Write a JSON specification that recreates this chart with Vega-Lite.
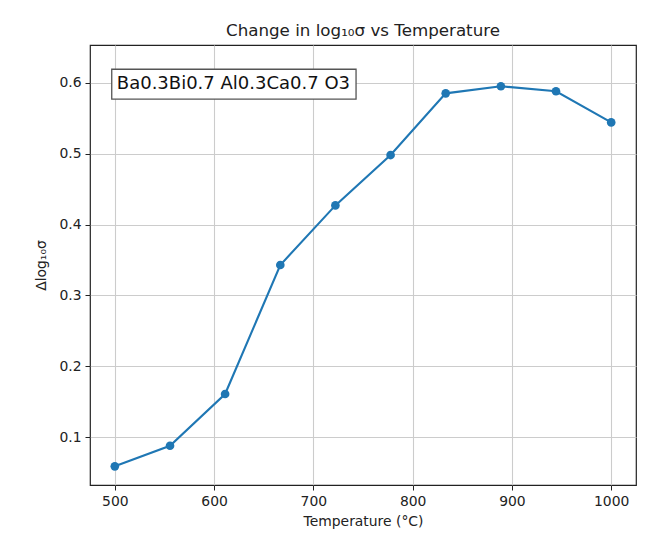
{
  "$schema": "https://vega.github.io/schema/vega-lite/v6.json",
  "width": 546,
  "height": 440,
  "autosize": {"type": "none"},
  "padding": {"left": 90, "top": 45, "right": 15, "bottom": 48},
  "background": "white",
  "title": {
    "text": "Change in log₁₀σ vs Temperature",
    "font": "DejaVu Sans",
    "fontSize": 16.7,
    "fontWeight": "normal",
    "color": "#222222",
    "offset": 5
  },
  "config": {
    "view": {"stroke": "#222222", "strokeWidth": 1.2},
    "axis": {
      "domain": false,
      "labelFont": "DejaVu Sans",
      "labelFontSize": 13.9,
      "labelColor": "#222222",
      "titleFont": "DejaVu Sans",
      "titleFontSize": 13.9,
      "titleFontWeight": "normal",
      "titleColor": "#222222",
      "tickColor": "#222222",
      "tickSize": 5,
      "tickWidth": 1,
      "labelPadding": 4,
      "grid": true,
      "gridColor": "#cccccc",
      "gridWidth": 1.1
    }
  },
  "datasets": {
    "series": [
      {"temperature": 500.0, "dlog_sigma": 0.059},
      {"temperature": 555.6, "dlog_sigma": 0.088},
      {"temperature": 611.1, "dlog_sigma": 0.161},
      {"temperature": 666.7, "dlog_sigma": 0.343},
      {"temperature": 722.2, "dlog_sigma": 0.427},
      {"temperature": 777.8, "dlog_sigma": 0.498},
      {"temperature": 833.3, "dlog_sigma": 0.585},
      {"temperature": 888.9, "dlog_sigma": 0.595},
      {"temperature": 944.4, "dlog_sigma": 0.588},
      {"temperature": 1000.0, "dlog_sigma": 0.544}
    ],
    "note": [
      {"label": "Ba0.3Bi0.7 Al0.3Ca0.7 O3"}
    ]
  },
  "layer": [
    {
      "data": {"name": "series"},
      "mark": {"type": "line", "color": "#1f77b4", "strokeWidth": 2.1},
      "encoding": {
        "x": {
          "field": "temperature",
          "type": "quantitative",
          "scale": {"domain": [475, 1025], "nice": false, "zero": false},
          "axis": {
            "title": "Temperature (°C)",
            "values": [500, 600, 700, 800, 900, 1000],
            "format": "d",
            "titlePadding": 7
          }
        },
        "y": {
          "field": "dlog_sigma",
          "type": "quantitative",
          "scale": {"domain": [0.0327, 0.6532], "nice": false, "zero": false},
          "axis": {
            "title": "Δlog₁₀σ",
            "values": [0.1, 0.2, 0.3, 0.4, 0.5, 0.6],
            "format": ".1f",
            "titlePadding": 10
          }
        },
        "order": {"field": "temperature"}
      }
    },
    {
      "data": {"name": "series"},
      "mark": {"type": "circle", "color": "#1f77b4", "opacity": 1, "size": 75},
      "encoding": {
        "x": {"field": "temperature", "type": "quantitative"},
        "y": {"field": "dlog_sigma", "type": "quantitative"}
      }
    },
    {
      "data": {"name": "note"},
      "mark": {"type": "rect", "fill": "white", "stroke": "#555555", "strokeWidth": 1.3},
      "encoding": {
        "x": {"datum": 496.9, "type": "quantitative"},
        "x2": {"datum": 743},
        "y": {"datum": 0.619, "type": "quantitative"},
        "y2": {"datum": 0.577}
      }
    },
    {
      "data": {"name": "note"},
      "mark": {
        "type": "text",
        "align": "left",
        "baseline": "middle",
        "font": "DejaVu Sans",
        "fontSize": 18,
        "color": "#111111"
      },
      "encoding": {
        "x": {"datum": 502, "type": "quantitative"},
        "y": {"datum": 0.5975, "type": "quantitative"},
        "text": {"field": "label"}
      }
    }
  ]
}
